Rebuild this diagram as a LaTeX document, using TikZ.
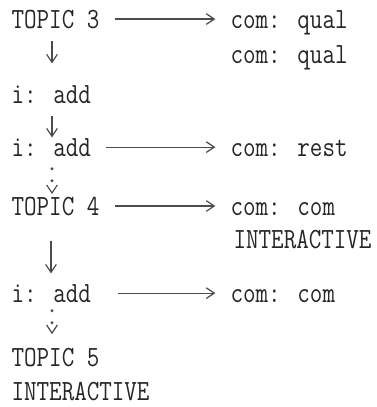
\documentclass[tikz,border=0pt]{standalone}
\usetikzlibrary{arrows.meta,calc}
\tikzset{every picture/.style={line width=0.9pt}}
\tikzset{
  lbl/.style={anchor=base west,inner sep=0pt,text=black!85,font=\fontsize{22}{24}\ttfamily},
  arr/.style={draw=black!70,-{Straight Barb[length=6pt,width=8pt]}},
  dotarr/.style={draw=black!70,line cap=round,line width=2.4pt,dash pattern=on 0pt off 9pt,-{Straight Barb[length=6pt,width=8pt,line width=0.9pt]}}
}
\newcommand{\tw}[1]{\scalebox{0.83}[1]{#1}}

\begin{document}
\begin{tikzpicture}[x=0.75pt,y=0.75pt,yscale=-1,xscale=1]
	\useasboundingbox (0,0) rectangle (376,407);

	% Text Node
	\draw (11,28) node [lbl] (tthree) {\tw{TOPIC 3}};
	% Text Node
	\draw (230,28) node [lbl] (cqa) {\tw{com: qual}};
	% Text Node
	\draw (230,63) node [lbl] (cqb) {\tw{com: qual}};
	% Text Node
	\draw (11,103) node [lbl] (iadda) {\tw{i: add}};
	% Text Node
	\draw (11,156) node [lbl] (iaddb) {\tw{i: add}};
	% Text Node
	\draw (230,156) node [lbl] (crest) {\tw{com: rest}};
	% Text Node
	\draw (11,215) node [lbl] (tfour) {\tw{TOPIC 4}};
	% Text Node
	\draw (230,215) node [lbl] (ccoma) {\tw{com: com}};
	% Text Node
	\draw (233,248) node [lbl] (intera) {\tw{INTERACTIVE}};
	% Text Node
	\draw (11,302) node [lbl] (iaddc) {\tw{i: add}};
	% Text Node
	\draw (230,302) node [lbl] (ccomb) {\tw{com: com}};
	% Text Node
	\draw (11,366) node [lbl] (tfive) {\tw{TOPIC 5}};
	% Text Node
	\draw (11,400) node [lbl] (interb) {\tw{INTERACTIVE}};

	%Straight Lines
	\draw [arr,shorten <=11pt,shorten >=11pt] (tthree.east) -- (tthree.east -| cqa.west);
	\draw [arr,shorten <=11pt,shorten >=11pt] (iaddb.east) -- (iaddb.east -| crest.west);
	\draw [arr,shorten <=11pt,shorten >=11pt] (tfour.east) -- (tfour.east -| ccoma.west);
	\draw [arr,shorten <=20pt,shorten >=11pt] (iaddc.east) -- (iaddc.east -| ccomb.west);
	%Down Arrows
	\draw [arr] ($(tthree.south west)+(41,12)$) -- ($(iadda.north west)+(41,-21)$);
	\draw [arr] ($(iadda.south west)+(41,12)$) -- ($(iaddb.north west)+(41,0)$);
	\draw [dotarr] ($(iaddb.south west)+(41,12)$) -- ($(tfour.north west)+(41,-2)$);
	\draw [arr] ($(tfour.south west)+(40,25)$) -- ($(iaddc.north west)+(40,-10)$);
	\draw [dotarr] ($(iaddc.south west)+(41,8)$) -- ($(tfive.north west)+(41,-13)$);

\end{tikzpicture}
\end{document}
